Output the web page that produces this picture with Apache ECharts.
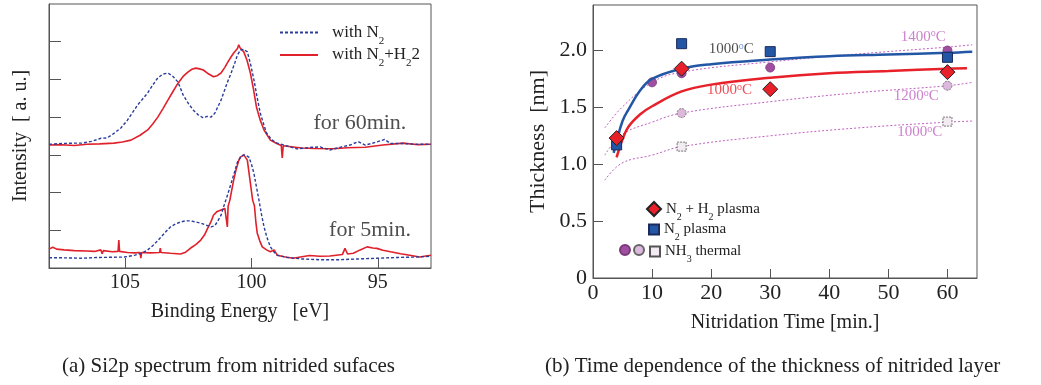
<!DOCTYPE html>
<html>
<head>
<meta charset="utf-8">
<script src="https://cdn.jsdelivr.net/npm/echarts@6/dist/echarts.min.js"></script>
<style>html,body{margin:0;padding:0;background:#fff}#c{width:1041px;height:385px}</style>
</head>
<body>
<div id="c"></div>
<script>
// ---------- (a) Si2p spectra: [binding energy eV, intensity a.u.] ----------
const blue60 = [[108.0,3.28],[107.5,3.30],[107.0,3.31],[106.7,3.31],[106.3,3.36],[105.95,3.44],[105.7,3.45],[105.43,3.57],[105.15,3.72],[104.9,3.92],[104.7,4.12],[104.5,4.32],[104.3,4.48],[104.1,4.64],[103.9,4.85],[103.7,5.04],[103.5,5.14],[103.3,5.17],[103.1,5.08],[102.9,4.93],[102.7,4.59],[102.5,4.37],[102.3,4.19],[102.1,4.06],[101.9,3.98],[101.75,4.02],[101.6,4.0],[101.45,4.1],[101.35,4.24],[101.2,4.45],[101.1,4.64],[100.95,4.92],[100.8,5.17],[100.65,5.45],[100.55,5.65],[100.43,5.78],[100.3,5.80],[100.16,5.73],[100.03,5.40],[99.9,4.99],[99.78,4.55],[99.65,4.11],[99.5,3.78],[99.4,3.58],[99.2,3.40],[98.98,3.31],[98.6,3.24],[98.2,3.16],[97.9,3.18],[97.6,3.20],[97.28,3.21],[96.9,3.13],[96.5,3.2],[96.1,3.26],[95.78,3.35],[95.5,3.26],[95.1,3.33],[94.73,3.41],[94.5,3.3],[94.0,3.3],[93.5,3.28],[92.9,3.28]];
const red60 = [[108.0,3.26],[107.5,3.27],[107.0,3.25],[106.5,3.28],[106.0,3.29],[105.43,3.31],[105.1,3.34],[104.76,3.39],[104.4,3.52],[104.1,3.66],[103.9,3.82],[103.7,4.0],[103.5,4.22],[103.3,4.45],[103.1,4.68],[102.9,4.9],[102.7,5.08],[102.5,5.2],[102.35,5.27],[102.2,5.3],[102.05,5.28],[101.9,5.25],[101.7,5.15],[101.5,5.07],[101.35,5.1],[101.2,5.17],[101.05,5.32],[100.95,5.44],[100.8,5.6],[100.7,5.7],[100.55,5.82],[100.5,5.92],[100.45,5.84],[100.3,5.73],[100.17,5.5],[100.04,5.17],[99.92,4.75],[99.8,4.27],[99.65,3.92],[99.5,3.66],[99.25,3.39],[99.0,3.3],[98.82,3.25],[98.78,2.92],[98.74,3.24],[98.35,3.21],[98.0,3.18],[97.5,3.17],[96.77,3.16],[96.2,3.19],[95.5,3.2],[94.8,3.26],[94.0,3.31],[93.4,3.27],[92.9,3.28]];
const blue5 = [[108.0,0.27],[107.5,0.27],[106.73,0.26],[106.0,0.28],[105.03,0.29],[104.6,0.34],[104.3,0.4],[104.1,0.48],[103.85,0.62],[103.6,0.8],[103.4,0.95],[103.2,1.09],[103.0,1.17],[102.8,1.22],[102.6,1.25],[102.4,1.25],[102.2,1.22],[102.0,1.19],[101.8,1.14],[101.6,1.09],[101.45,1.12],[101.35,1.22],[101.2,1.4],[101.1,1.62],[100.95,1.92],[100.8,2.25],[100.65,2.58],[100.55,2.81],[100.42,2.95],[100.3,3.0],[100.2,2.98],[100.1,2.94],[100.0,2.76],[99.9,2.51],[99.8,2.15],[99.7,1.8],[99.6,1.42],[99.5,1.09],[99.38,0.8],[99.25,0.56],[99.1,0.42],[98.98,0.34],[98.6,0.28],[98.0,0.24],[97.3,0.22],[96.5,0.22],[95.8,0.24],[95.0,0.26],[94.2,0.28],[93.5,0.29],[92.9,0.31]];
const red5 = [[108.0,0.50],[107.85,0.55],[107.7,0.50],[107.4,0.48],[107.0,0.46],[106.5,0.45],[106.2,0.44],[105.95,0.48],[105.9,0.38],[105.85,0.46],[105.5,0.43],[105.27,0.44],[105.24,0.74],[105.21,0.44],[104.9,0.41],[104.6,0.40],[104.4,0.41],[104.37,0.26],[104.34,0.41],[104.0,0.40],[103.63,0.41],[103.6,0.53],[103.57,0.41],[103.2,0.39],[102.8,0.37],[102.6,0.42],[102.4,0.53],[102.2,0.62],[102.0,0.74],[101.85,0.88],[101.73,1.05],[101.6,1.22],[101.5,1.4],[101.35,1.5],[101.2,1.54],[101.05,1.58],[100.98,1.6],[100.95,1.09],[100.92,1.64],[100.85,1.8],[100.78,2.05],[100.7,2.33],[100.6,2.62],[100.5,2.85],[100.43,2.94],[100.3,3.0],[100.16,2.86],[100.04,2.25],[99.95,1.8],[99.88,1.65],[99.82,1.2],[99.77,0.93],[99.67,0.72],[99.57,0.56],[99.4,0.48],[99.25,0.43],[99.1,0.48],[98.98,0.34],[98.7,0.3],[98.35,0.26],[98.0,0.3],[97.7,0.33],[97.3,0.31],[96.9,0.32],[96.4,0.36],[96.3,0.52],[96.2,0.37],[95.97,0.39],[95.7,0.48],[95.43,0.56],[95.2,0.53],[95.04,0.52],[94.8,0.47],[94.5,0.43],[94.1,0.38],[93.74,0.34],[93.35,0.29],[93.1,0.32],[92.9,0.34]];
const energyTicks = [95, 100, 105];
const intensityTicks = [1, 2, 3, 4, 5, 6];

// ---------- (b) thickness vs nitridation time: [min, nm] ----------
const plasmaN2H2 = [[4,1.23],[15,1.84],[30,1.66],[60,1.81]];
const plasmaN2 = [[4,1.17],[15,2.06],[30,1.99],[60,1.94]];
const nh3_1400 = [[10,1.72],[15,1.80],[30,1.85],[60,2.00]];
const nh3_1200 = [[15,1.45],[60,1.69]];
const nh3_1000 = [[15,1.155],[60,1.375]];
const fitN2H2 = [[4,1.06],[5,1.22],[6,1.33],[8,1.44],[10,1.51],[15,1.64],[20,1.70],[30,1.76],[40,1.80],[50,1.82],[60,1.84],[63.3,1.845]];
const fitN2 = [[3.5,1.10],[4,1.20],[5,1.38],[6,1.48],[8,1.65],[10,1.75],[15,1.84],[20,1.88],[30,1.92],[40,1.95],[50,1.965],[60,1.98],[64.2,1.99]];
const fit1400 = [[2,1.32],[4.9,1.50],[10,1.72],[15,1.81],[30,1.90],[45,1.97],[60,2.03],[64.2,2.05]];
const fit1200 = [[2,1.08],[4.9,1.26],[10,1.37],[15,1.45],[30,1.55],[45,1.63],[60,1.69],[64.2,1.72]];
const fit1000 = [[2,0.86],[4.9,1.01],[10,1.08],[15,1.155],[30,1.25],[45,1.32],[60,1.37],[64.2,1.38]];
const timeTicks = [0, 10, 20, 30, 40, 50, 60];
const thickTicks = [0, 0.5, 1.0, 1.5, 2.0];

// annotation texts anchored in data units
const annotA = [[95.71, 3.85, 'for 60min.'], [95.31, 1.01, 'for 5min.']];
const annotB = [
  [23.4, 2.01, '1000{supb|o}C', '#222'],
  [23.1, 1.65, '1000{sup|o}C', '#e8202a'],
  [55.9, 2.12, '1400{sup|o}C', '#c060c0'],
  [54.7, 1.60, '1200{sup|o}C', '#c060c0'],
  [55.3, 1.28, '1000{sup|o}C', '#c060c0']
];

const FF = '"Liberation Serif","Times New Roman",serif';
const BLUE = '#2a3c9c', RED = '#e0202a', PURP = '#c060c0';
const chart = echarts.init(document.getElementById('c'), null, {renderer: 'canvas'});

const subRich = {
  n: {fontFamily: FF, fontSize: 15, color: '#222', lineHeight: 18, verticalAlign: 'middle'},
  s: {fontFamily: FF, fontSize: 10, color: '#222', lineHeight: 18, verticalAlign: 'bottom', padding: [0, 0, -4, 0]}
};
const subRichA = {
  n: {fontFamily: FF, fontSize: 17, color: '#222', lineHeight: 20, verticalAlign: 'middle'},
  s: {fontFamily: FF, fontSize: 11, color: '#222', lineHeight: 20, verticalAlign: 'bottom', padding: [0, 0, -4, 0]}
};
const legendNames = {
  'with N2': '{n|with N}{s|2}',
  'with N2+H22': '{n|with N}{s|2}{n|+H}{s|2}{n|2}',
  'N2+H2 plasma': '{n|N}{s|2}{n| + H}{s|2}{n| plasma}',
  'N2 plasma': '{n|N}{s|2}{n| plasma}',
  'NH3 1400': ' ', 'NH3 1200': ' ',
  'NH3 1000': '{n|NH}{s|3}{n| thermal}'
};
const fmt = name => legendNames[name];

const axisCommon = {
  axisLine: {show: true, lineStyle: {color: '#555', width: 1}},
  splitLine: {show: false},
  nameTextStyle: {fontFamily: FF, fontSize: 20, color: '#222'}
};

const option = {
  animation: false,
  backgroundColor: '#fff',
  title: [
    {text: '(a) Si2p spectrum from nitrided sufaces', left: 57, top: 351, textStyle: {fontFamily: FF, fontSize: 21, fontWeight: 'normal', color: '#222'}},
    {text: '(b) Time dependence of the thickness of nitrided layer', left: 540, top: 351, textStyle: {fontFamily: FF, fontSize: 21, fontWeight: 'normal', color: '#222'}}
  ],
  grid: [
    {left: 49, top: 4, width: 382, height: 264, show: true, borderColor: '#555', borderWidth: 1},
    {left: 593, top: 5, width: 384, height: 273, show: true, borderColor: '#555', borderWidth: 1}
  ],
  legend: [
    {id: 'lgA', orient: 'vertical', left: 279, top: 24, padding: 0, itemWidth: 38, itemHeight: 14, itemGap: 0,
     itemStyle: {opacity: 0},
     data: ['with N2', 'with N2+H22'], formatter: fmt, textStyle: {rich: subRichA, padding: [0, 0, 0, 9]}, selectedMode: false},
    {id: 'lgB1', orient: 'vertical', left: 646, top: 201, padding: 0, itemWidth: 14, itemHeight: 14,
     data: ['N2+H2 plasma'], formatter: fmt, textStyle: {rich: subRich}, selectedMode: false},
    {id: 'lgB2', orient: 'vertical', left: 648, top: 222, padding: 0, itemWidth: 10, itemHeight: 10,
     data: ['N2 plasma'], formatter: fmt, textStyle: {rich: subRich}, selectedMode: false},
    {id: 'lgB3', left: 619, top: 244, padding: 0, itemWidth: 10, itemHeight: 10, data: ['NH3 1400'], formatter: fmt, selectedMode: false},
    {id: 'lgB4', left: 633, top: 244, padding: 0, itemWidth: 10, itemHeight: 10, data: ['NH3 1200'], formatter: fmt, selectedMode: false},
    {id: 'lgB5', left: 649, top: 244, padding: 0, itemWidth: 10, itemHeight: 10, data: ['NH3 1000'], formatter: fmt, textStyle: {rich: subRich}, selectedMode: false}
  ],
  xAxis: [
    Object.assign({}, axisCommon, {
      gridIndex: 0, type: 'value', min: 92.9, max: 108, inverse: true,
      name: 'Binding Energy   [eV]', nameLocation: 'middle', nameGap: 34,
      axisTick: {inside: true, length: 10, customValues: energyTicks, lineStyle: {color: '#555'}},
      axisLabel: {customValues: energyTicks, fontFamily: FF, fontSize: 20, color: '#222', margin: 5}
    }),
    Object.assign({}, axisCommon, {
      gridIndex: 1, type: 'value', min: 0, max: 65,
      name: 'Nitridation Time [min.]', nameLocation: 'middle', nameGap: 35,
      axisTick: {inside: true, length: 9, customValues: timeTicks.slice(1), lineStyle: {color: '#555'}},
      axisLabel: {customValues: timeTicks, fontFamily: FF, fontSize: 22, color: '#222', margin: 4}
    })
  ],
  yAxis: [
    Object.assign({}, axisCommon, {
      gridIndex: 0, type: 'value', min: 0, max: 7,
      name: 'Intensity  [ a. u.]', nameLocation: 'middle', nameGap: 18,
      axisTick: {inside: true, length: 12, customValues: intensityTicks, lineStyle: {color: '#555'}},
      axisLabel: {show: false}
    }),
    Object.assign({}, axisCommon, {
      gridIndex: 1, type: 'value', min: 0, max: 2.4,
      name: 'Thickness  [nm]', nameLocation: 'middle', nameGap: 44,
      nameTextStyle: {fontFamily: FF, fontSize: 22, color: '#222'},
      axisTick: {inside: true, length: 10, customValues: thickTicks.slice(1), lineStyle: {color: '#555'}},
      axisLabel: {customValues: thickTicks, fontFamily: FF, fontSize: 22, color: '#222', margin: 6,
                  formatter: v => v === 0 ? '0' : v.toFixed(1)}
    })
  ],
  series: [
    // (a)
    {name: 'with N2', type: 'line', xAxisIndex: 0, yAxisIndex: 0, data: blue60, symbol: 'none', color: BLUE,
     lineStyle: {color: BLUE, width: 1.4, type: [3, 2]}, z: 3},
    {name: 'with N2', type: 'line', xAxisIndex: 0, yAxisIndex: 0, data: blue5, symbol: 'none', color: BLUE,
     lineStyle: {color: BLUE, width: 1.4, type: [3, 2]}, z: 3},
    {name: 'with N2+H22', type: 'line', xAxisIndex: 0, yAxisIndex: 0, data: red60, symbol: 'none', color: RED,
     lineStyle: {color: RED, width: 1.6}, z: 2},
    {name: 'with N2+H22', type: 'line', xAxisIndex: 0, yAxisIndex: 0, data: red5, symbol: 'none', color: RED,
     lineStyle: {color: RED, width: 1.6}, z: 2},
    {name: 'annotA', type: 'scatter', xAxisIndex: 0, yAxisIndex: 0, data: annotA, symbolSize: 0, silent: true,
     label: {show: true, position: 'inside', formatter: p => p.value[2], fontFamily: FF, fontSize: 22, color: '#222'}},
    // (b) NH3 fits
    {name: 'fit1400', type: 'line', xAxisIndex: 1, yAxisIndex: 1, data: fit1400, smooth: 0.4, symbol: 'none',
     lineStyle: {color: PURP, width: 1, type: [2, 2]}, z: 1},
    {name: 'fit1200', type: 'line', xAxisIndex: 1, yAxisIndex: 1, data: fit1200, smooth: 0.4, symbol: 'none',
     lineStyle: {color: PURP, width: 1, type: [2, 2]}, z: 1},
    {name: 'fit1000', type: 'line', xAxisIndex: 1, yAxisIndex: 1, data: fit1000, smooth: 0.4, symbol: 'none',
     lineStyle: {color: PURP, width: 1, type: [2, 2]}, z: 1},
    {name: 'NH3 1400', type: 'scatter', xAxisIndex: 1, yAxisIndex: 1, data: nh3_1400, symbol: 'circle', symbolSize: 9,
     itemStyle: {color: '#a04ea0', borderColor: '#7a3a7a', borderWidth: 0.8, opacity: 1}, z: 2},
    {name: 'NH3 1200', type: 'scatter', xAxisIndex: 1, yAxisIndex: 1, data: nh3_1200, symbol: 'circle', symbolSize: 9,
     itemStyle: {color: '#dcb8dc', borderColor: '#666', borderWidth: 0.8, borderType: [2, 1], opacity: 1}, z: 2},
    {name: 'NH3 1000', type: 'scatter', xAxisIndex: 1, yAxisIndex: 1, data: nh3_1000, symbol: 'rect', symbolSize: 9,
     itemStyle: {color: '#f3ebf2', borderColor: '#555', borderWidth: 0.8, borderType: [2, 1], opacity: 1}, z: 2},
    // plasma fits
    {name: 'fitN2H2', type: 'line', xAxisIndex: 1, yAxisIndex: 1, data: fitN2H2, smooth: 0.4, symbol: 'none',
     lineStyle: {color: '#e8202a', width: 2.5}, z: 3},
    {name: 'fitN2', type: 'line', xAxisIndex: 1, yAxisIndex: 1, data: fitN2, smooth: 0.4, symbol: 'none',
     lineStyle: {color: '#2456a6', width: 2.5}, z: 3},
    {name: 'N2 plasma', type: 'scatter', xAxisIndex: 1, yAxisIndex: 1, data: plasmaN2, symbol: 'rect', symbolSize: 10,
     itemStyle: {color: '#2456a6', borderColor: '#1a2a5a', borderWidth: 1, opacity: 1}, z: 4},
    {name: 'N2+H2 plasma', type: 'scatter', xAxisIndex: 1, yAxisIndex: 1, data: plasmaN2H2, symbol: 'diamond', symbolSize: 15,
     itemStyle: {color: '#e8202a', borderColor: '#222', borderWidth: 1, opacity: 1}, z: 5},
    {name: 'annotB', type: 'scatter', xAxisIndex: 1, yAxisIndex: 1, symbolSize: 0, silent: true, z: 6,
     data: annotB.map(a => ({value: [a[0], a[1], a[2]], label: {color: a[3], rich: {sup: {color: a[3]}}}})),
     label: {show: true, position: 'inside', formatter: p => p.value[2],
       rich: {
         sup: {fontFamily: FF, fontSize: 10, verticalAlign: 'top', lineHeight: 16, padding: [0, 0, 6, 0]},
         supb: {fontFamily: FF, fontSize: 10, verticalAlign: 'top', lineHeight: 16, color: '#4a7adf', padding: [0, 0, 6, 0]}
       },
       fontFamily: FF, fontSize: 15, lineHeight: 16}
    }
  ]
};
chart.setOption(option);
</script>
</body>
</html>
